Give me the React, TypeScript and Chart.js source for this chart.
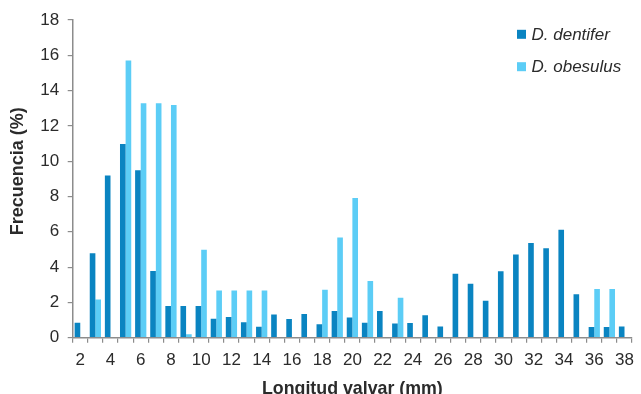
import React, { useEffect, useRef } from "react";
import { Chart, registerables } from "chart.js";

Chart.register(...registerables);

const categories = [
  "2", "3", "4", "5", "6", "7", "8", "9", "10", "11", "12", "13", "14", "15", "16", "17", "18", "19", "20",
  "21", "22", "23", "24", "25", "26", "27", "28", "29", "30", "31", "32", "33", "34", "35", "36", "37", "38",
];

const dentifer = [
  0.85, 4.78, 9.19, 10.98, 9.49, 3.78, 1.8, 1.8, 1.8, 1.08, 1.17, 0.87, 0.62, 1.32, 1.06, 1.34, 0.76, 1.51, 1.15,
  0.85, 1.51, 0.81, 0.83, 1.27, 0.64, 3.63, 3.06, 2.1, 3.76, 4.71, 5.37, 5.07, 6.12, 2.46, 0.6, 0.6, 0.64,
];

const obesulus = [
  0, 2.17, 0, 15.7, 13.29, 13.29, 13.19, 0.19, 4.99, 2.68, 2.68, 2.68, 2.67, 0, 0, 0, 2.72, 5.67, 7.92,
  3.21, 0, 2.27, 0, 0, 0, 0, 0, 0, 0, 0, 0, 0, 0, 0, 2.76, 2.76, 0,
];

const seriesNames = ["D. dentifer", "D. obesulus"];
const yTicks = [0, 2, 4, 6, 8, 10, 12, 14, 16, 18];

const DARK = "#0a84c1";
const LIGHT = "#5ccdf6";
const AXIS = "#8c8c8c";
const TEXT = "#2b2b2b";
const FONT = "'Liberation Sans', Arial, sans-serif";

const legendPlugin = {
  id: "cornerLegend",
  afterDraw(chart: any) {
    const ctx = chart.ctx;
    ctx.save();
    chart.data.datasets.forEach((ds: any, i: number) => {
      const y = 34 + i * 32.4;
      ctx.fillStyle = ds.backgroundColor;
      ctx.fillRect(517, y - 4.2, 9, 9);
      ctx.fillStyle = TEXT;
      ctx.font = `italic 17px ${FONT}`;
      ctx.textBaseline = "alphabetic";
      ctx.textAlign = "left";
      ctx.fillText(ds.label, 531.5, y + 5.5);
    });
    ctx.restore();
  },
};

export default function App() {
  const ref = useRef<HTMLCanvasElement | null>(null);

  useEffect(() => {
    document.body.style.margin = "0";
    const canvas = ref.current;
    if (!canvas) return;
    const chart = new Chart(canvas, {
      type: "bar",
      data: {
        labels: categories,
        datasets: [
          { label: seriesNames[0], data: dentifer, backgroundColor: DARK, categoryPercentage: 0.744, barPercentage: 1 },
          { label: seriesNames[1], data: obesulus, backgroundColor: LIGHT, categoryPercentage: 0.744, barPercentage: 1 },
        ],
      },
      options: {
        responsive: false,
        animation: false,
        devicePixelRatio: 1,
        layout: { padding: { top: 20, right: 2.7, left: 0, bottom: 0 } },
        plugins: { legend: { display: false }, tooltip: { enabled: false } },
        scales: {
          x: {
            offset: true,
            grid: { offset: true, drawOnChartArea: false, drawTicks: true, tickLength: 5, color: AXIS, lineWidth: 1.2 },
            border: { color: AXIS, width: 1.5 },
            ticks: {
              autoSkip: false,
              maxRotation: 0,
              padding: 7,
              color: TEXT,
              font: { family: FONT, size: 17 },
              callback: (_v: any, i: number) => (Number(categories[i]) % 2 === 0 ? categories[i] : ""),
            },
            title: {
              display: true,
              text: "Longitud valvar (mm)",
              color: TEXT,
              font: { family: FONT, size: 17.8, weight: "bold", lineHeight: 1 },
              padding: { top: 0, bottom: -4 },
            },
            afterFit: (s: any) => {
              s.height = 56.3;
            },
          },
          y: {
            min: 0,
            max: 18,
            afterBuildTicks: (s: any) => {
              s.ticks = yTicks.map((v) => ({ value: v }));
            },
            grid: { drawOnChartArea: false, drawTicks: true, tickLength: 5, color: AXIS, lineWidth: 1.2 },
            border: { color: AXIS, width: 1.5 },
            ticks: { padding: 8.5, color: TEXT, font: { family: FONT, size: 17 } },
            title: {
              display: true,
              text: "   Frecuencia (%)",
              color: TEXT,
              font: { family: FONT, size: 18, weight: "bold", lineHeight: 1.2 },
              padding: { top: 7, bottom: 0 },
            },
            afterFit: (s: any) => {
              s.width = 72.7;
            },
          },
        },
      },
      plugins: [legendPlugin],
    });
    return () => chart.destroy();
  }, []);

  return (
    <div style={{ width: 641, height: 394 }}>
      <canvas ref={ref} width={641} height={394} style={{ display: "block" }} />
    </div>
  );
}
